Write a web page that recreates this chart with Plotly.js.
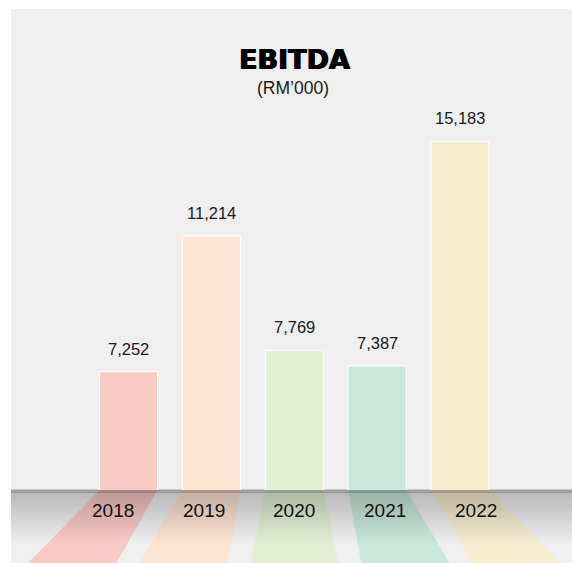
<!DOCTYPE html>
<html>
<head>
<meta charset="utf-8">
<script src="https://cdn.plot.ly/plotly-3.0.1.min.js"></script>
<style>html,body{margin:0;padding:0;background:#fff;}#chart{width:572px;height:563px;}</style>
</head>
<body>
<div id="chart"></div>
<script>
// ---- data ----
const categories = ["2018", "2019", "2020", "2021", "2022"];
const ebitda = [7252, 11214, 7769, 7387, 15183];
const valueLabels = ["7,252", "11,214", "7,769", "7,387", "15,183"];
const barColors = ["#f8c9c5", "#fde4d3", "#e3efd5", "#cae7db", "#f6edd1"];

// ---- layout geometry ----
const W = 572, H = 563;
const plotH = 490;              // baseline pixel (plot area height, top margin 0)
const bottomM = H - plotH;
const xRange = [-1.552, 5.352];
const yRange = [3.6956, 4.3784]; // log10 units
const barWidth = 0.70;
const fanCenter = 2, fanPos = 1.34, fanWidth = 1.52;

const idx = categories.map((c, i) => i);
const px2paperX = v => (v - xRange[0]) / (xRange[1] - xRange[0]);
const pyToPaper = py => (plotH - py) / plotH;

const shapes = [];
// gray panel
shapes.push({type:'rect', xref:'paper', yref:'paper', x0:11/W, x1:1, y0:pyToPaper(H), y1:pyToPaper(9),
  fillcolor:'#efefef', line:{width:0}, layer:'below'});
// perspective floor reflections
idx.forEach(i => {
  const hw = barWidth / 2;
  const cb = fanCenter + (i - fanCenter) * fanPos;
  const hwb = hw * fanWidth;
  const yt = pyToPaper(plotH), yb = pyToPaper(H);
  const p = `M ${px2paperX(i-hw)},${yt} L ${px2paperX(i+hw)},${yt} L ${px2paperX(cb+hwb)},${yb} L ${px2paperX(cb-hwb)},${yb} Z`;
  shapes.push({type:'path', xref:'paper', yref:'paper', path:p, fillcolor:barColors[i], line:{width:0}, layer:'below'});
});
// gradient band
const gTop = 492, gBot = 543;
for (let py = gTop; py < gBot; py++) {
  const t = (py - gTop) / (gBot - gTop);
  const a = 0.23 * (1 - t);
  shapes.push({type:'rect', xref:'paper', yref:'paper', x0:11/W, x1:1, y0:pyToPaper(py+1), y1:pyToPaper(py),
    fillcolor:`rgba(0,0,0,${a.toFixed(3)})`, line:{width:0}, layer:'below'});
}
// dark rim line
shapes.push({type:'rect', xref:'paper', yref:'paper', x0:11/W, x1:1, y0:pyToPaper(492.5), y1:pyToPaper(489.5),
  fillcolor:'rgba(0,0,0,0.33)', line:{width:0}, layer:'below'});

const annotations = [];
idx.forEach(i => {
  annotations.push({x:i, y:Math.log10(ebitda[i]), xref:'x', yref:'y', text:valueLabels[i], showarrow:false,
    yanchor:'middle', yshift:23,
    font:{family:'Liberation Sans, Arial, sans-serif', size:16.5, color:'#1a1a1a'}});
  const labelPy = 510.5;
  const t = (labelPy - plotH) / (H - plotH);
  const cx = i + (fanCenter + (i - fanCenter) * fanPos - i) * t;
  annotations.push({x:px2paperX(cx), y:pyToPaper(labelPy), xref:'paper', yref:'paper', text:categories[i],
    showarrow:false, xanchor:'center', yanchor:'middle',
    font:{family:'Liberation Sans, Arial, sans-serif', size:19, color:'#111'}});
});
annotations.push({x:293/W, y:pyToPaper(88), xref:'paper', yref:'paper', text:'(RM’000)', showarrow:false,
  xanchor:'center', yanchor:'middle',
  font:{family:'Liberation Sans, Arial, sans-serif', size:17.5, color:'#1a1a1a'}});

const trace = {
  type:'bar', x:idx, y:ebitda, width:barWidth,
  marker:{color:barColors, line:{color:'#ffffff', width:1}},
  hoverinfo:'skip'
};

const layout = {
  width:W, height:H,
  margin:{l:0, r:0, t:0, b:bottomM, pad:0},
  paper_bgcolor:'#ffffff', plot_bgcolor:'rgba(0,0,0,0)',
  showlegend:false,
  title:{text:'<b>EBITDA</b>', x:294.5/W, xanchor:'center', y:(H-60)/H, yanchor:'middle',
    font:{family:'DejaVu Sans, sans-serif', size:27, color:'#000', shadow:'0.7px 0 0 #000, -0.7px 0 0 #000'}},
  xaxis:{range:xRange, visible:false, fixedrange:true},
  yaxis:{type:'log', range:yRange, visible:false, fixedrange:true},
  shapes:shapes, annotations:annotations
};

Plotly.newPlot('chart', [trace], layout, {displayModeBar:false, staticPlot:true});
</script>
</body>
</html>
